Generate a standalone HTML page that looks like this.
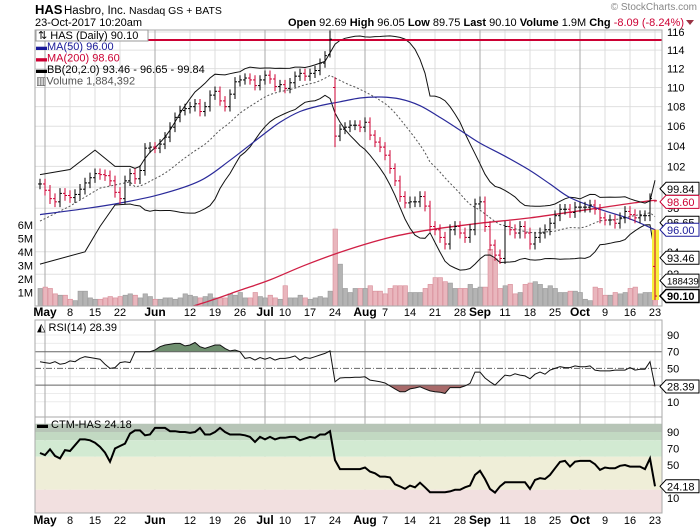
<!DOCTYPE html>
<html><head><meta charset="utf-8"><style>
html,body{margin:0;padding:0;background:#fff;}
svg{display:block;font-family:"Liberation Sans",sans-serif;}
</style></head><body>
<svg id="chart" width="700" height="530" viewBox="0 0 700 530" xmlns="http://www.w3.org/2000/svg">
<defs>
<clipPath id="cpMain"><rect x="35" y="30" width="627" height="276"/></clipPath>
<clipPath id="cpRsi"><rect x="35" y="320" width="627" height="97"/></clipPath>
<clipPath id="cpCtm"><rect x="35" y="417" width="627" height="96"/></clipPath>
</defs>
<g>
<text x="35" y="14" font-size="13" font-weight="bold">HAS</text>
<text x="64" y="14" font-size="11.5">Hasbro, Inc.</text>
<text x="129" y="14" font-size="10.5">Nasdaq GS + BATS</text>
<text x="35" y="26" font-size="11">23-Oct-2017 10:20am</text>
<text x="684" y="26" font-size="11" text-anchor="end"><tspan font-weight="bold">Open</tspan> 92.69 <tspan font-weight="bold">High</tspan> 96.05 <tspan font-weight="bold">Low</tspan> 89.75 <tspan font-weight="bold">Last</tspan> 90.10 <tspan font-weight="bold">Volume</tspan> 1.9M <tspan font-weight="bold">Chg</tspan> <tspan fill="#cc0033">-8.09 (-8.24%)</tspan></text>
<polygon points="686,20 694,20 690,25" fill="#993344"/>
<text x="697" y="10" font-size="10" fill="#888" text-anchor="end">© StockCharts.com</text>
</g>
<g id="grid"></g>
<g id="mainMarks" clip-path="url(#cpMain)"></g>
<g id="rsiMarks" clip-path="url(#cpRsi)"></g>
<g id="ctmMarks" clip-path="url(#cpCtm)"></g>
<g id="frames"></g>
<g id="labels"></g>
<g>
<rect x="36" y="30" width="112" height="11" fill="#fff" stroke="#999" stroke-width="1"/>
<text x="38" y="39" font-size="11">⇅ HAS (Daily) 90.10</text>
<text x="36" y="50" font-size="11" fill="#1a1a99">▬MA(50) 96.00</text>
<text x="36" y="61.5" font-size="11" fill="#cc0033">▬MA(200) 98.60</text>
<text x="36" y="73" font-size="11">▬BB(20,2.0) 93.46 - 96.65 - 99.84</text>
<text x="36" y="84.5" font-size="11" fill="#555">▥Volume 1,884,392</text>
</g>
<g>
<text x="37" y="331" font-size="11">◭ RSI(14) 28.39</text>
</g>
<g>
<text x="37" y="428" font-size="11">▬ CTM-HAS 24.18</text>
</g>
</svg>
<script>
const closes = [100.3,99.7,98.9,98.6,99.4,99.2,99.0,99.3,99.8,100.4,100.9,101.3,101.2,101.1,100.6,99.5,98.9,100.6,101.3,100.8,
101.6,103.8,103.9,103.8,104.2,104.9,105.9,106.9,107.6,107.8,108.0,108.3,107.5,108.0,109.2,109.6,108.6,108.0,109.3,110.6,
110.8,111.0,110.8,110.2,110.8,111.3,110.9,110.1,110.3,109.9,110.5,111.2,111.5,111.2,111.5,111.8,112.6,113.4,115.2,105.0,
105.7,105.9,106.1,106.1,105.9,106.4,105.1,104.4,103.9,103.1,101.8,100.6,99.1,98.5,98.6,98.6,99.1,98.2,96.3,96.0,
95.3,94.7,96.0,96.3,95.7,95.3,96.0,98.4,98.6,96.3,94.6,93.7,93.4,96.3,96.0,95.7,96.3,95.7,94.7,95.3,
95.7,96.0,96.6,97.3,97.9,97.9,97.6,98.1,98.1,98.1,98.3,97.9,97.1,96.9,96.9,96.6,97.1,97.7,97.4,97.1,
97.3,97.3,98.9,90.10];
const specialBars = [[59,110.0,111.1,103.9,105.0],[58,113.5,116.2,113.2,115.2],[123,92.69,96.05,89.75,90.10]];
const volumes = [1.3,1.4,1.3,0.9,0.8,0.8,0.5,0.4,1.1,1.1,0.6,0.5,0.5,0.6,0.7,0.6,0.7,0.8,0.9,0.8,
0.6,0.9,0.7,0.5,0.5,0.6,0.6,0.5,0.6,0.9,0.8,0.7,0.6,0.7,0.9,0.6,0.6,0.6,0.9,0.8,
1.0,0.6,0.6,1.0,0.7,0.6,0.8,0.6,0.5,1.5,0.6,0.6,0.8,0.6,0.5,0.6,0.7,0.6,1.1,5.7,
3.1,1.3,1.0,1.3,1.3,1.3,1.5,1.1,1.1,0.9,1.3,1.5,1.5,1.5,1.0,1.0,1.0,1.3,1.6,2.1,
2.1,1.8,1.7,1.3,1.3,1.3,1.6,1.3,1.4,1.4,4.2,3.5,1.3,1.5,1.6,0.9,1.0,1.6,1.7,1.8,
1.6,1.3,1.5,1.3,1.0,1.0,1.1,1.1,1.0,0.5,0.4,1.4,1.3,0.8,0.8,1.0,0.9,1.0,1.3,1.4,
0.9,1.0,1.0,1.88];
const rsiValues = [58,57,56,58,55,56,59,58,62,64,63,62,61,55,50,51,57,58,57,70,
70,70,70,72,76,78,79,80,80,77,78,81,76,74,76,78,78,74,71,72,
70,62,63,60,63,61,63,60,62,62,63,65,60,63,62,64,66,68,71,
34,38.5,39,39,39.5,39.5,40,36,35,34,32.5,29,25.5,22,22,25.5,26.5,28,25.5,23,
22,21.5,20,27,27,27,29,32,45.6,45.6,38.5,34,30,36,42,41,43.5,42,41,37.5,
43,45.6,43,48,50,52,51,51,53,52,52,53,48,47,47,47,48,48,48,51,
48,49,49,58,28.39];
const ctmValues = [64.5,62,69,61,58,68,67,74,81,81,80,77,72,65,54,70,73,76,88,92,
92,86,87,95,95,95,91,91,90,90,89,90,95,87,87,90,95,90,87,87,
87,86,84,78,84,81,84,81,83,83,84,84,80,82,84,83,87,87,91,
56,45,45,45,45,45,47,42,40,36,36,35,26.6,24,21,25,23,28.6,23,17,
17,17,17,18,20,20,23,25,38,43,33,21,16.5,24,29,29,29,29,29,21,
32,34,33,38,46,53.8,55,48,54,55,55,55,51,44,47,46,46,49,50,48,
48,48,45,58,24.18];
const ma50Keys = [[0,97.4],[8,97.9],[15,98.4],[24,99.3],[32,100.6],[38,102.6],[44,104.9],[48,106.4],[52,107.5],[56,108.1],[60,108.5],[64,108.9],[68,109.0],[72,108.8],[76,108.1],[80,106.9],[84,105.6],[88,104.3],[93,103.0],[98,101.6],[102,100.3],[106,99.0],[112,97.9],[118,97.0],[123,96.0]];
const ma200Keys = [[0,85.0],[20,87.8],[34,89.7],[40,90.6],[46,91.5],[53,92.8],[61,94.1],[70,95.3],[78,96.0],[88,96.6],[98,97.1],[110,97.9],[122,98.7],[123,98.6]];
const bbUpperKeys = [[0,101.2],[6,101.7],[11,103.6],[15,102.0],[18,102.0]];
const bbMidKeys = [[0,96.8],[6,98.2],[12,99.9],[17,100.4],[18,100.5]];
const bbLowerKeys = [[0,92.9],[9,94.0],[12,96.3],[15,98.3],[18,98.4]];
const priceTicks = [116,114,112,110,108,106,104,102,98,94,92];
const volTicks = [6,5,4,3,2,1];
const rsiTicks = [90,70,50,10];
const ctmTicks = [90,70,50,10];
const dateLabels = [[1,'May',1],[6,'8',0],[11,'15',0],[16,'22',0],[23,'Jun',1],[30,'12',0],[35,'19',0],[40,'26',0],[45,'Jul',1],[49,'10',0],[54,'17',0],[59,'24',0],[65,'Aug',1],[69,'7',0],[74,'14',0],[79,'21',0],[84,'28',0],[88,'Sep',1],[93,'11',0],[98,'18',0],[103,'25',0],[108,'Oct',1],[113,'9',0],[118,'16',0],[123,'23',0]];

const NS='http://www.w3.org/2000/svg';
const xOf=i=>40+5*i;
const yP=p=>32+1045*(Math.log(116)-Math.log(p));
const yV=v=>306-13.5*v;
const yR=v=>335+(90-v)*0.835;
const yC=v=>432+(90-v)*0.825;
function mk(tag,attrs,parent){const e=document.createElementNS(NS,tag);for(const k in attrs)e.setAttribute(k,attrs[k]);parent.appendChild(e);return e;}
const G=document.getElementById('grid'),M=document.getElementById('mainMarks'),R=document.getElementById('rsiMarks'),C=document.getElementById('ctmMarks'),F=document.getElementById('frames'),L=document.getElementById('labels');
const N=closes.length;

[[100,90,'#b7c5b7'],[90,80,'#c2d9c2'],[80,60,'#d2ead2'],[60,20,'#efeed8'],[20,-10,'#f2e0e0']].forEach(b=>{
 const r=mk('rect',{x:35,y:yC(b[0]),width:627,height:yC(b[1])-yC(b[0]),fill:b[2]},C);
 
 
});

priceTicks.concat([100,96]).forEach(p=>{const l=mk('line',{x1:35,x2:662,y1:yP(p),y2:yP(p),stroke:'#e0e0e0'},G);
 });
[10,20,30,40,60,80,90].forEach(v=>{const l=mk('line',{x1:35,x2:662,y1:yR(v),y2:yR(v),stroke:'#ececec'},G);
 });
dateLabels.forEach(d=>{const x=xOf(d[0]);const col=d[2]?'#aaa':'#ddd';
 [[30,306],[320,417],[417,513]].forEach(s=>{const l=mk('line',{x1:x,x2:x,y1:s[0],y2:s[1],stroke:col},G);
 });});

function smoothPath(pts){let s='M'+pts[0][0].toFixed(1)+' '+pts[0][1].toFixed(1);
 for(let j=0;j<pts.length-1;j++){const p0=pts[Math.max(j-1,0)],p1=pts[j],p2=pts[j+1],p3=pts[Math.min(j+2,pts.length-1)];
  const c1=[p1[0]+(p2[0]-p0[0])/6,p1[1]+(p2[1]-p0[1])/6],c2=[p2[0]-(p3[0]-p1[0])/6,p2[1]-(p3[1]-p1[1])/6];
  s+=' C'+c1[0].toFixed(1)+' '+c1[1].toFixed(1)+' '+c2[0].toFixed(1)+' '+c2[1].toFixed(1)+' '+p2[0].toFixed(1)+' '+p2[1].toFixed(1);}
 return s;}
function keyPath(keys,yf){return smoothPath(keys.map(k=>[xOf(k[0]),yf(k[1])]));}
function linePath(keys,yf){return keys.map((k,j)=>(j?'L':'M')+xOf(k[0]).toFixed(1)+' '+yf(k[1]).toFixed(1)).join(' ');}
function seriesPath(vals,yf){let s='';vals.forEach((v,j)=>{s+=(s?'L':'M')+xOf(j).toFixed(1)+' '+yf(v).toFixed(1)+' ';});return s;}

volumes.forEach((v,i)=>{const down=i>0&&closes[i]<closes[i-1];
 const r=mk('rect',{x:xOf(i)-2,y:yV(v),width:4.5,height:306-yV(v),fill:down?'#e9b6bd':'#b4b4b4',stroke:down?'#d88a96':'#999','stroke-width':0.6},M);
 
 });

let p=mk('path',{d:keyPath(ma200Keys,yP),fill:'none',stroke:'#d01f45','stroke-width':1.3},M);

const up=[],mid=[],lo=[];
for(let i=19;i<N;i++){const w=closes.slice(i-19,i+1);const m=w.reduce((a,b)=>a+b,0)/20;const sd=Math.sqrt(w.reduce((a,b)=>a+(b-m)*(b-m),0)/20);up.push([i,m+2*sd]);mid.push([i,m]);lo.push([i,m-2*sd]);}
p=mk('path',{d:linePath(bbUpperKeys.concat(up),yP),fill:'none',stroke:'#111','stroke-width':1},M);

p=mk('path',{d:linePath(bbLowerKeys.concat(lo),yP),fill:'none',stroke:'#111','stroke-width':1},M);

p=mk('path',{d:linePath(bbMidKeys.concat(mid),yP),fill:'none',stroke:'#555','stroke-width':1,'stroke-dasharray':'2,2'},M);

p=mk('path',{d:keyPath(ma50Keys,yP),fill:'none',stroke:'#2a2a9a','stroke-width':1.2},M);

p=mk('line',{x1:108,x2:662,y1:40,y2:40,stroke:'#cc0033','stroke-width':2},M);

p=mk('rect',{x:652,y:yP(96),width:7,height:300-yP(96),fill:'#f7f03c'},M);

const sp={};specialBars.forEach(s=>sp[s[0]]=s);
closes.forEach((c,i)=>{let o=i>0?closes[i-1]:c,h,l;
 if(sp[i]){o=sp[i][1];h=sp[i][2];l=sp[i][3];c=sp[i][4];}else{h=Math.max(o,c)+0.5;l=Math.min(o,c)-0.5;}
 const col=(i>0&&c<closes[i-1])?'#cc0033':'#000';const x=xOf(i);
 const g=mk('g',{stroke:col,'stroke-width':1},M);
 
 
 mk('line',{x1:x,x2:x,y1:yP(h),y2:yP(l)},g);
 mk('line',{x1:x-2,x2:x,y1:yP(o),y2:yP(o)},g);
 mk('line',{x1:x,x2:x+2,y1:yP(c),y2:yP(c)},g);});

function fillPoly(vals,th,cmp,yf){let pts=vals.map((v,i)=>xOf(i)+','+yf(cmp(v,th))).join(' ');pts+=' '+xOf(vals.length-1)+','+yf(th)+' '+xOf(0)+','+yf(th);return pts;}
p=mk('polygon',{points:fillPoly(rsiValues,70,Math.max,yR),fill:'#6f8f6f'},R);

p=mk('polygon',{points:fillPoly(rsiValues,30,Math.min,yR),fill:'#a86a6a'},R);

[[70,''],[30,''],[50,'6,2,1,2']].forEach(t=>{const l=mk('line',{x1:35,x2:662,y1:yR(t[0]),y2:yR(t[0]),stroke:'#666','stroke-dasharray':t[1]},R);
 });
p=mk('path',{d:seriesPath(rsiValues,yR),fill:'none',stroke:'#111','stroke-width':1},R);

p=mk('path',{d:seriesPath(ctmValues,yC),fill:'none',stroke:'#000','stroke-width':2},C);


[[35,30,627,276,'main-panel-frame'],[35,320,627,97,'rsi-panel-frame'],[35,417,627,96,'ctm-panel-frame']].forEach(f=>{
 const r=mk('rect',{x:f[0],y:f[1],width:f[2],height:f[3],fill:'none',stroke:'#aaa'},F);
 });

function txt(x,y,s,attrs,name){const t=mk('text',Object.assign({x:x,y:y,'font-size':11},attrs||{}),L);t.textContent=s;return t;}
priceTicks.forEach(v=>txt(667,yP(v)+4,String(v),{},'price-tick-label'));
volTicks.forEach(v=>txt(33,yV(v)+4,v+'M',{'text-anchor':'end'},'volume-tick-label'));
rsiTicks.forEach(v=>txt(667,yR(v)+4,String(v),{},'rsi-tick-label'));
ctmTicks.forEach(v=>txt(667,yC(v)+4,String(v),{},'ctm-tick-label'));
dateLabels.forEach(d=>{[316,524].forEach(y=>txt(xOf(d[0]),y,d[1],{'text-anchor':'middle','font-weight':d[2]?'bold':'normal','font-size':d[2]?12:11},'date-label'));});

const tags=[[yP(99.84),'99.84','#000','#000',0],[yP(98.6),'98.60','#cc0033','#cc0033',0],[yP(96.65),'96.65','#000','#000',0],[yP(96.0),'96.00','#1a1a99','#1a1a99',0],[yP(93.46),'93.46','#000','#000',0],[yV(1.884),'188439','#000','#000',0],[yP(90.1),'90.10','#000','#000',1],[yR(28.39),'28.39','#000','#000',0],[yC(24.18),'24.18','#000','#000',0]];
tags.forEach(t=>{const y=t[0];const g=mk('g',{},L);
 
 
 mk('polygon',{points:`660,${y} 666,${y-6.5} 699,${y-6.5} 699,${y+6.5} 666,${y+6.5}`,fill:'#fff',stroke:t[2],'stroke-width':t[4]?1.5:1},g);
 const tt=mk('text',{x:667,y:y+4,'font-size':t[1].length>5?9.5:11,fill:t[3],'font-weight':t[4]?'bold':'normal'},g);tt.textContent=t[1];});
</script>
</body></html>
